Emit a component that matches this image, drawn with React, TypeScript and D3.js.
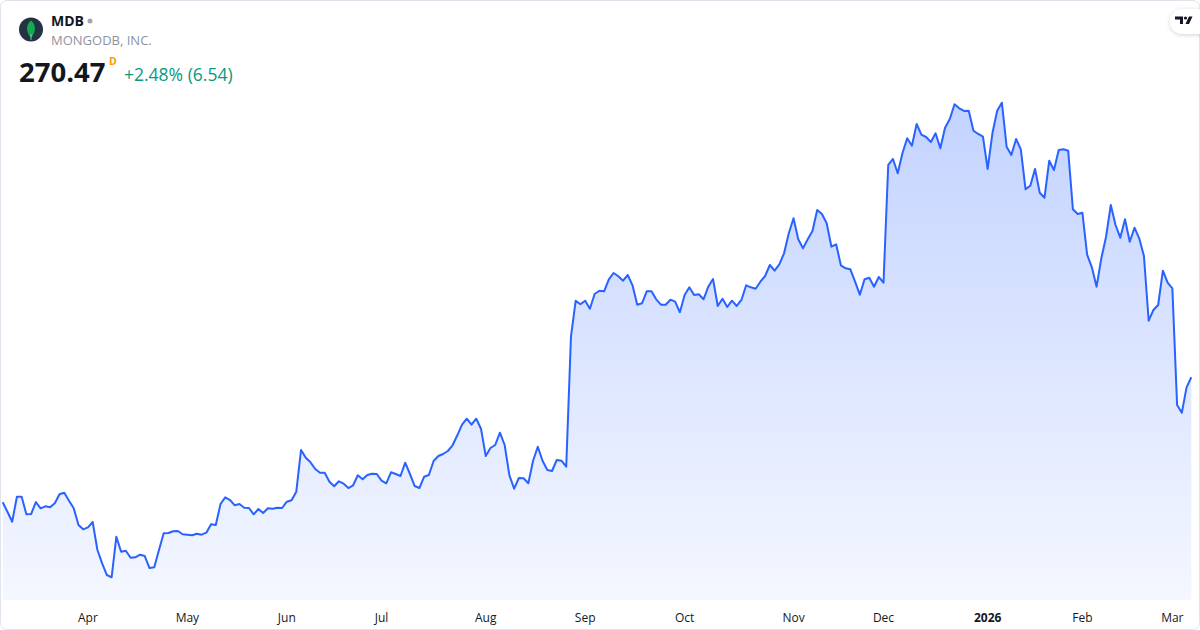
import React from "react";
import * as d3 from "d3";

// ---- data ----
const ticker = "MDB";
const companyName = "MONGODB, INC.";
const lastPrice = "270.47";
const changeText = "+2.48% (6.54)";
const firstTradingDay = "2025-03-06";
const marketHolidays = [
  "2025-04-18", "2025-05-26", "2025-06-19", "2025-07-04", "2025-09-01",
  "2025-11-27", "2025-12-25", "2026-01-01", "2026-01-19", "2026-02-16",
];
const monthNames = ["Jan", "Feb", "Mar", "Apr", "May", "Jun", "Jul", "Aug", "Sep", "Oct", "Nov", "Dec"];

// daily closes
const closes = [
  189.22, 183.11, 176.61, 192.86, 192.86, 181.42, 181.61, 189.41, 185.32, 186.62,
  185.97, 188.57, 194.42, 195.46, 190.26, 185.32, 174.46, 171.67, 172.97, 176.41,
  158.21, 149.57, 141.96, 140.47, 166.86, 157.11, 157.76, 153.21, 153.47, 155.16,
  154.31, 146.51, 146.97, 158.21, 169.07, 169.26, 170.37, 170.56, 168.42, 168.16,
  167.77, 168.81, 168.16, 169.46, 174.92, 174.46, 188.11, 192.47, 190.71, 187.27,
  188.11, 185.71, 185.51, 181.42, 184.86, 182.26, 185.32, 185.06, 185.71, 185.51,
  189.61, 190.52, 196.11, 223.21, 218.21, 215.22, 210.86, 208.46, 208.46, 202.61,
  199.62, 202.87, 201.31, 198.51, 200.27, 206.77, 204.17, 206.96, 207.81, 207.61,
  203.26, 201.57, 208.72, 207.61, 206.31, 214.96, 207.61, 199.81, 198.51, 205.86,
  206.96, 216.06, 219.31, 220.61, 222.56, 226.27, 232.77, 239.66, 243.56, 239.66,
  243.56, 237.06, 219.31, 224.51, 226.46, 234.46, 226.46, 206.77, 198.06, 205.01,
  204.82, 201.57, 216.26, 225.36, 216.26, 210.21, 209.56, 216.71, 216.26, 212.36,
  296.86, 320.26, 317.92, 320.26, 315.06, 324.62, 326.76, 326.37, 334.17, 338.27,
  336.12, 333.26, 336.97, 330.27, 317.66, 318.57, 326.37, 326.37, 321.17, 317.66,
  317.66, 320.91, 319.61, 312.72, 323.97, 328.97, 323.97, 324.42, 321.17, 329.36,
  334.37, 316.82, 321.56, 316.17, 320.26, 316.82, 320.72, 330.27, 328.97, 328.06,
  332.61, 336.32, 343.47, 339.76, 343.92, 351.07, 364.07, 373.82, 360.17, 354.32,
  360.17, 365.57, 379.22, 376.62, 370.57, 355.36, 356.92, 343.27, 341.32, 340.67,
  332.61, 324.16, 334.17, 335.21, 329.36, 335.67, 331.96, 408.47, 412.37, 403.07,
  416.07, 425.82, 421.01, 435.12, 428.16, 426.67, 423.42, 429.07, 419.32, 432.71,
  438.37, 447.92, 445.32, 443.57, 443.76, 430.76, 428.62, 426.86, 405.87, 429.07,
  443.76, 448.96, 420.36, 414.97, 425.37, 418.67, 392.67, 395.01, 405.87, 390.46,
  387.21, 411.26, 405.22, 418.22, 418.67, 417.76, 379.67, 376.62, 377.46, 350.16,
  341.97, 329.36, 347.82, 361.86, 382.47, 369.47, 361.21, 373.17, 358.61, 367.71,
  360.82, 349.32, 307.26, 314.22, 317.47, 339.76, 331.96, 328.32, 252.46, 247.46,
  263.93, 270.47,
];

// trading calendar: weekdays that are not market holidays
function tradingDates(start: string, count: number): Date[] {
  const out: Date[] = [];
  const holidaySet = new Set(marketHolidays);
  const d = new Date(start + "T12:00:00Z");
  while (out.length < count) {
    const dow = d.getUTCDay();
    const iso = d.toISOString().slice(0, 10);
    if (dow !== 0 && dow !== 6 && !holidaySet.has(iso)) out.push(new Date(d));
    d.setUTCDate(d.getUTCDate() + 1);
  }
  return out;
}

const W = 1200;
const H = 630;

export default function App() {
  const dates = tradingDates(firstTradingDay, closes.length);
  const x = d3.scaleLinear().domain([0, closes.length - 1]).range([2.7, 1191.3]);
  const ext = d3.extent(closes) as [number, number];
  const y = d3.scaleLinear().domain(ext).range([577.3, 102.7]);
  const baseY = 600;

  const line = d3.line<number>().x((_, i) => x(i)).y((v) => y(v));
  const area = d3.area<number>().x((_, i) => x(i)).y0(baseY).y1((v) => y(v));

  const ticks: { i: number; label: string; year: boolean }[] = [];
  for (let i = 1; i < dates.length; i++) {
    if (dates[i].getUTCMonth() !== dates[i - 1].getUTCMonth()) {
      const m = dates[i].getUTCMonth();
      ticks.push({
        i,
        label: m === 0 ? String(dates[i].getUTCFullYear()) : monthNames[m],
        year: m === 0,
      });
    }
  }

  const font = "'Open Sans', 'Noto Sans', sans-serif";

  return (
    <div style={{ position: "fixed", left: 0, top: 0, width: W, height: H, background: "#fff" }}>
      <svg width={W} height={H} viewBox={`0 0 ${W} ${H}`} style={{ display: "block" }}>
        <defs>
          <linearGradient id="areaGrad" gradientUnits="userSpaceOnUse" x1="0" y1={y(ext[1])} x2="0" y2={baseY}>
            <stop offset="0" stopColor="rgb(41,98,255)" stopOpacity={0.28} />
            <stop offset="1" stopColor="rgb(41,98,255)" stopOpacity={0.05} />
          </linearGradient>
          <filter id="shadow" x="-50%" y="-50%" width="200%" height="200%">
            <feDropShadow dx="0" dy="1" stdDeviation="2" floodColor="#000" floodOpacity="0.18" />
          </filter>
        </defs>
        <rect x={0.5} y={0.5} width={W - 1} height={H - 1} rx={6} fill="#fff" stroke="#e0e3eb" />

        <path d={area(closes) || ""} fill="url(#areaGrad)" />
        <path d={line(closes) || ""} fill="none" stroke="#2962ff" strokeWidth={2} strokeLinejoin="round" />

        {ticks.map((t) => (
          <text
            key={t.i}
            x={x(t.i)}
            y={622}
            textAnchor="middle"
            fontFamily={font}
            fontSize={12}
            fontWeight={t.year ? 700 : 400}
            fill="#131722"
          >
            {t.label}
          </text>
        ))}

        {/* header */}
        <circle cx={31} cy={29.5} r={12} fill="#233343" />
        <path d="M31,20.5 C36.5,25 36,32 31,38 C26,32 25.5,25 31,20.5 Z" fill="#13aa52" />
        <line x1={31} y1={34} x2={31} y2={40} stroke="#b8c4c2" strokeWidth={0.8} />
        <text x={51} y={26} fontFamily={font} fontSize={14} fontWeight={700} fill="#131722">{ticker}</text>
        <circle cx={90} cy={21} r={2.5} fill="#a3a6af" />
        <text x={51} y={45} fontFamily={font} fontSize={13} fill="#8f929b">{companyName}</text>
        <text x={19} y={82} fontFamily={font} fontSize={27.5} fontWeight={700} fill="#131722">{lastPrice}</text>
        <text x={109} y={65} fontFamily={font} fontSize={10.5} fontWeight={700} fill="#ff9800">D</text>
        <text x={124} y={81} fontFamily={font} fontSize={17.5} fill="#089981">{changeText}</text>

        {/* TradingView badge */}
        <rect x={1170} y={9} width={40} height={25} rx={12.5} fill="#fff" filter="url(#shadow)" />
        <g fill="#131722">
          <path d="M1175,16.5 h8 v7.5 h-3 v-4.5 h-5 z" />
          <circle cx={1185.5} cy={18} r={1.6} />
          <path d="M1189,16.5 h3.5 l-3.5,7.5 h-3.5 z" />
        </g>
      </svg>
    </div>
  );
}
